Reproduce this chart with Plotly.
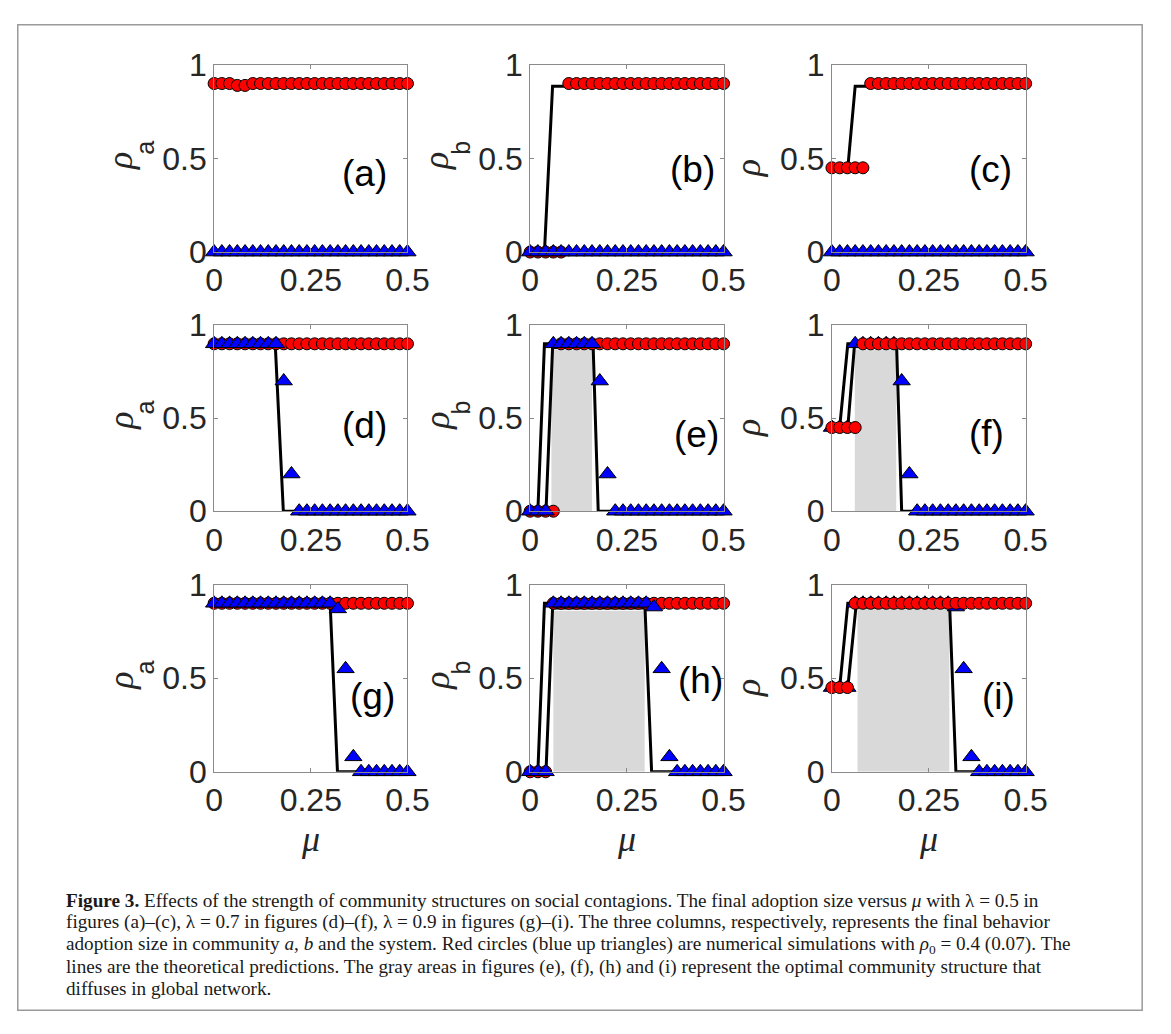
import plotly.graph_objects as go

W, H = 1171, 1034

# ---------------- data ----------------
MU = [0.00, 0.02, 0.04, 0.06, 0.08, 0.10, 0.12, 0.14, 0.16, 0.18, 0.20, 0.22, 0.24,
      0.26, 0.28, 0.30, 0.32, 0.34, 0.36, 0.38, 0.40, 0.42, 0.44, 0.46, 0.48, 0.50]

# lambda = 0.5
red_a_05 = [0.90, 0.90, 0.90, 0.89, 0.89, 0.90, 0.90, 0.90, 0.90, 0.90, 0.90, 0.90, 0.90,
            0.90, 0.90, 0.90, 0.90, 0.90, 0.90, 0.90, 0.90, 0.90, 0.90, 0.90, 0.90, 0.90]
blue_a_05 = [0, 0, 0, 0, 0, 0, 0, 0, 0, 0, 0, 0, 0, 0, 0, 0, 0, 0, 0, 0, 0, 0, 0, 0, 0, 0]
red_b_05 = [0, 0, 0, 0, 0, 0.90, 0.90, 0.90, 0.90, 0.90, 0.90, 0.90, 0.90,
            0.90, 0.90, 0.90, 0.90, 0.90, 0.90, 0.90, 0.90, 0.90, 0.90, 0.90, 0.90, 0.90]
blue_b_05 = [0, 0, 0, 0, 0, 0, 0, 0, 0, 0, 0, 0, 0, 0, 0, 0, 0, 0, 0, 0, 0, 0, 0, 0, 0, 0]
red_s_05 = [0.45, 0.45, 0.45, 0.45, 0.45, 0.90, 0.90, 0.90, 0.90, 0.90, 0.90, 0.90, 0.90,
            0.90, 0.90, 0.90, 0.90, 0.90, 0.90, 0.90, 0.90, 0.90, 0.90, 0.90, 0.90, 0.90]
blue_s_05 = [0, 0, 0, 0, 0, 0, 0, 0, 0, 0, 0, 0, 0, 0, 0, 0, 0, 0, 0, 0, 0, 0, 0, 0, 0, 0]

# lambda = 0.7
red_a_07 = [0.90, 0.90, 0.90, 0.90, 0.90, 0.90, 0.90, 0.90, 0.90, 0.90, 0.90, 0.90, 0.90,
            0.90, 0.90, 0.90, 0.90, 0.90, 0.90, 0.90, 0.90, 0.90, 0.90, 0.90, 0.90, 0.90]
blue_a_07 = [0.90, 0.90, 0.90, 0.90, 0.90, 0.90, 0.90, 0.90, 0.90, 0.70, 0.20, 0, 0,
             0, 0, 0, 0, 0, 0, 0, 0, 0, 0, 0, 0, 0]
red_b_07 = [0, 0, 0, 0, 0.90, 0.90, 0.90, 0.90, 0.90, 0.90, 0.90, 0.90, 0.90,
            0.90, 0.90, 0.90, 0.90, 0.90, 0.90, 0.90, 0.90, 0.90, 0.90, 0.90, 0.90, 0.90]
blue_b_07 = [0, 0, 0, 0.90, 0.90, 0.90, 0.90, 0.90, 0.90, 0.70, 0.20, 0, 0,
             0, 0, 0, 0, 0, 0, 0, 0, 0, 0, 0, 0, 0]
red_s_07 = [0.45, 0.45, 0.45, 0.45, 0.90, 0.90, 0.90, 0.90, 0.90, 0.90, 0.90, 0.90, 0.90,
            0.90, 0.90, 0.90, 0.90, 0.90, 0.90, 0.90, 0.90, 0.90, 0.90, 0.90, 0.90, 0.90]
blue_s_07 = [0.45, 0.45, 0.45, 0.90, 0.90, 0.90, 0.90, 0.90, 0.90, 0.70, 0.20, 0, 0,
             0, 0, 0, 0, 0, 0, 0, 0, 0, 0, 0, 0, 0]

# lambda = 0.9
red_a_09 = [0.90, 0.90, 0.90, 0.90, 0.90, 0.90, 0.90, 0.90, 0.90, 0.90, 0.90, 0.90, 0.90,
            0.90, 0.90, 0.90, 0.90, 0.90, 0.90, 0.90, 0.90, 0.90, 0.90, 0.90, 0.90, 0.90]
blue_a_09 = [0.90, 0.90, 0.90, 0.90, 0.90, 0.90, 0.90, 0.90, 0.90, 0.90, 0.90, 0.90, 0.90,
             0.90, 0.90, 0.90, 0.87, 0.55, 0.08, 0, 0, 0, 0, 0, 0, 0]
red_b_09 = [0, 0, 0, 0.90, 0.90, 0.90, 0.90, 0.90, 0.90, 0.90, 0.90, 0.90, 0.90,
            0.90, 0.90, 0.90, 0.90, 0.90, 0.90, 0.90, 0.90, 0.90, 0.90, 0.90, 0.90, 0.90]
blue_b_09 = [0, 0, 0, 0.90, 0.90, 0.90, 0.90, 0.90, 0.90, 0.90, 0.90, 0.90, 0.90,
             0.90, 0.90, 0.90, 0.88, 0.55, 0.08, 0, 0, 0, 0, 0, 0, 0]
red_s_09 = [0.45, 0.45, 0.45, 0.90, 0.90, 0.90, 0.90, 0.90, 0.90, 0.90, 0.90, 0.90, 0.90,
            0.90, 0.90, 0.90, 0.90, 0.90, 0.90, 0.90, 0.90, 0.90, 0.90, 0.90, 0.90, 0.90]
blue_s_09 = [0.45, 0.45, 0.45, 0.90, 0.90, 0.90, 0.90, 0.90, 0.90, 0.90, 0.90, 0.90, 0.90,
             0.90, 0.90, 0.90, 0.88, 0.55, 0.08, 0, 0, 0, 0, 0, 0, 0]

# theoretical predictions (x, y) for the rho0=0.4 (red) and rho0=0.07 (blue) cases
th_red_x = {
    "a": [0, 0.5], "b": [0, 0.037, 0.058, 0.5], "c": [0, 0.041, 0.060, 0.5],
    "d": [0, 0.5], "e": [0, 0.020, 0.037, 0.5], "f": [0, 0.020, 0.041, 0.5],
    "g": [0, 0.5], "h": [0, 0.020, 0.037, 0.5], "i": [0, 0.020, 0.041, 0.5],
}
th_red_y = {
    "a": [0.9, 0.9], "b": [0, 0, 0.886, 0.886], "c": [0.45, 0.45, 0.886, 0.886],
    "d": [0.9, 0.9], "e": [0, 0, 0.9, 0.9], "f": [0.45, 0.45, 0.9, 0.9],
    "g": [0.9, 0.9], "h": [0, 0, 0.9, 0.9], "i": [0.45, 0.45, 0.9, 0.9],
}
th_blue_x = {
    "a": [0, 0.5], "b": [0, 0.5], "c": [0, 0.5],
    "d": [0, 0.158, 0.179, 0.5], "e": [0, 0.041, 0.058, 0.163, 0.176, 0.5],
    "f": [0, 0.041, 0.058, 0.167, 0.180, 0.5],
    "g": [0, 0.300, 0.319, 0.5], "h": [0, 0.041, 0.058, 0.297, 0.314, 0.5],
    "i": [0, 0.041, 0.062, 0.304, 0.320, 0.5],
}
th_blue_y = {
    "a": [0, 0], "b": [0, 0], "c": [0, 0],
    "d": [0.9, 0.9, 0, 0], "e": [0, 0, 0.88, 0.88, 0, 0], "f": [0.45, 0.45, 0.887, 0.887, 0, 0],
    "g": [0.9, 0.9, 0, 0], "h": [0, 0, 0.875, 0.875, 0, 0], "i": [0.45, 0.45, 0.88, 0.88, 0, 0],
}

# gray "optimal" areas: [x0, x1, top]
gray_x0 = {"e": 0.055, "f": 0.059, "h": 0.060, "i": 0.066}
gray_x1 = {"e": 0.160, "f": 0.166, "h": 0.296, "i": 0.303}
gray_top = {"e": 0.87, "f": 0.87, "h": 0.86, "i": 0.87}

panels = ["a", "b", "c", "d", "e", "f", "g", "h", "i"]
red_data = [red_a_05, red_b_05, red_s_05, red_a_07, red_b_07, red_s_07, red_a_09, red_b_09, red_s_09]
blue_data = [blue_a_05, blue_b_05, blue_s_05, blue_a_07, blue_b_07, blue_s_07, blue_a_09, blue_b_09, blue_s_09]
ylabel_sub = ["a", "b", ""]
label_pos = {"a": (0.39, 0.42), "b": (0.42, 0.44), "c": (0.41, 0.44),
             "d": (0.39, 0.46), "e": (0.43, 0.41), "f": (0.40, 0.42),
             "g": (0.41, 0.40), "h": (0.44, 0.49), "i": (0.43, 0.40)}

# ---------------- layout geometry (pixels) ----------------
cols = [(210.7, 409.3), (535.3, 734.0), (845.3, 1044.3)]
rows = [(48.5, 242.5), (318.3, 511.0), (587.0, 781.0)]

fig = go.Figure()
layout = dict(width=W, height=H, margin=dict(l=0, r=0, t=0, b=0),
              paper_bgcolor="white", plot_bgcolor="white", showlegend=False)
annotations = []
shapes = []

AXC = "#8a8a8a"
SANS = "Liberation Sans, Arial, sans-serif"
SERIF = "Liberation Serif, Times New Roman, serif"
TICKFONT = dict(family=SANS, size=32, color="#262626")


def px(x):
    return x / W


def py(y):
    return 1 - y / H


for k, p in enumerate(panels):
    r, c = divmod(k, 3)
    n = k + 1
    xa = "x" if n == 1 else f"x{n}"
    ya = "y" if n == 1 else f"y{n}"
    x0, x1 = cols[c]
    y0, y1 = rows[r]
    yc = (y0 + y1) / 2
    layout["xaxis" if n == 1 else f"xaxis{n}"] = dict(
        domain=[px(x0), px(x1)], anchor=ya, range=[0, 0.5],
        tickvals=[0, 0.25, 0.5], ticktext=["0", "0.25", "0.5"],
        showline=True, mirror="ticks", linecolor=AXC, linewidth=1,
        ticks="inside", ticklen=4, tickcolor=AXC, showgrid=False, zeroline=False,
        tickfont=TICKFONT, fixedrange=True)
    layout["yaxis" if n == 1 else f"yaxis{n}"] = dict(
        domain=[py(y1), py(y0)], anchor=xa, range=[0, 1],
        tickvals=[0, 0.5, 1], ticktext=["0", "0.5", "1"],
        showline=True, mirror="ticks", linecolor=AXC, linewidth=1,
        ticks="inside", ticklen=4, tickcolor=AXC, showgrid=False, zeroline=False,
        tickfont=TICKFONT, fixedrange=True)

    # gray area
    if p in gray_x0:
        gx = [gray_x0[p], gray_x1[p], gray_x1[p], gray_x0[p], gray_x0[p]]
        gy = [0, 0, gray_top[p], gray_top[p], 0]
        fig.add_trace(go.Scatter(x=gx, y=gy, xaxis=xa, yaxis=ya, mode="lines",
                                 fill="toself", fillcolor="#d9d9d9",
                                 line=dict(width=0, color="#d9d9d9"), hoverinfo="skip"))
    # theory lines
    fig.add_trace(go.Scatter(x=th_blue_x[p], y=th_blue_y[p], xaxis=xa, yaxis=ya, mode="lines",
                             line=dict(color="black", width=3), cliponaxis=False))
    fig.add_trace(go.Scatter(x=th_red_x[p], y=th_red_y[p], xaxis=xa, yaxis=ya, mode="lines",
                             line=dict(color="black", width=3), cliponaxis=False))
    red_tr = go.Scatter(x=MU, y=red_data[k], xaxis=xa, yaxis=ya, mode="markers",
                        marker=dict(symbol="circle", size=12, color="#ff0000",
                                    line=dict(color="black", width=1)), cliponaxis=False)
    blue_tr = go.Scatter(x=MU, y=blue_data[k], xaxis=xa, yaxis=ya, mode="markers",
                         marker=dict(symbol="triangle-up", size=15, color="#0000ff",
                                     line=dict(color="black", width=1)), cliponaxis=False)
    if c == 2:
        fig.add_trace(blue_tr)
        fig.add_trace(red_tr)
    else:
        fig.add_trace(red_tr)
        fig.add_trace(blue_tr)

    # panel label
    lx, ly = label_pos[p]
    annotations.append(dict(x=lx, y=ly, xref=xa, yref=ya, text=f"({p})", showarrow=False,
                            font=dict(family=SANS, size=37, color="black"),
                            xanchor="center", yanchor="middle"))

    # y label: italic rho + upright sans subscript
    sub = ylabel_sub[c]
    if sub:
        annotations.append(dict(x=px(x0 - 96), y=py(yc + 3), xref="paper", yref="paper",
                                text="<i>ρ</i>", textangle=-90, showarrow=False,
                                font=dict(family=SERIF, size=36, color="#262626"),
                                xanchor="center", yanchor="middle"))
        annotations.append(dict(x=px(x0 - 71), y=py(yc - 11), xref="paper", yref="paper",
                                text=sub, textangle=-90, showarrow=False,
                                font=dict(family=SANS, size=25, color="#262626"),
                                xanchor="center", yanchor="middle"))
    else:
        annotations.append(dict(x=px(x0 - 86), y=py(yc + 10), xref="paper", yref="paper",
                                text="<i>ρ</i>", textangle=-90, showarrow=False,
                                font=dict(family=SERIF, size=36, color="#262626"),
                                xanchor="center", yanchor="middle"))
    # x label (bottom row only)
    if r == 2:
        annotations.append(dict(x=px((x0 + x1) / 2), y=py(851), xref="paper", yref="paper",
                                text="<i>μ</i>", showarrow=False,
                                font=dict(family=SERIF, size=36, color="#262626"),
                                xanchor="center", yanchor="middle"))

# caption
caption_lines = [
    "<b>Figure 3.</b> Effects of the strength of community structures on social contagions. The final adoption size versus <i>μ</i> with λ = 0.5 in",
    "figures (a)–(c), λ = 0.7 in figures (d)–(f), λ = 0.9 in figures (g)–(i). The three columns, respectively, represents the final behavior",
    "adoption size in community <i>a</i>, <i>b</i> and the system. Red circles (blue up triangles) are numerical simulations with <i>ρ</i><sub>0</sub> = 0.4 (0.07). The",
    "lines are the theoretical predictions. The gray areas in figures (e), (f), (h) and (i) represent the optimal community structure that",
    "diffuses in global network.",
]
cap_y = [914, 937, 960, 983, 1006]
for t, yy in zip(caption_lines, cap_y):
    annotations.append(dict(x=px(57), y=py(yy), xref="paper", yref="paper", text=t,
                            showarrow=False, xanchor="left", yanchor="middle", align="left",
                            font=dict(family=SERIF, size=19.2, color="#1a1a1a")))

# page frame
shapes.append(dict(type="rect", xref="paper", yref="paper",
                   x0=px(9), x1=px(1164), y0=py(1028), y1=py(7),
                   line=dict(color="#9a9a9a", width=1.5), fillcolor="rgba(0,0,0,0)", layer="below"))

layout["annotations"] = annotations
layout["shapes"] = shapes
fig.update_layout(**layout)

pin_script = (
    "document.documentElement.style.margin='0';"
    "document.documentElement.style.padding='0';"
    "document.documentElement.style.overflow='hidden';"
    "document.body.style.margin='0';"
    "document.body.style.padding='0';"
    "document.body.style.overflow='hidden';"
    "var gd=document.getElementById('{plot_id}');"
    "gd.style.position='absolute';gd.style.left='0px';gd.style.top='0px';"
)
fig.write_html("out.html", post_script=pin_script,
               config={"responsive": False, "displayModeBar": False})
